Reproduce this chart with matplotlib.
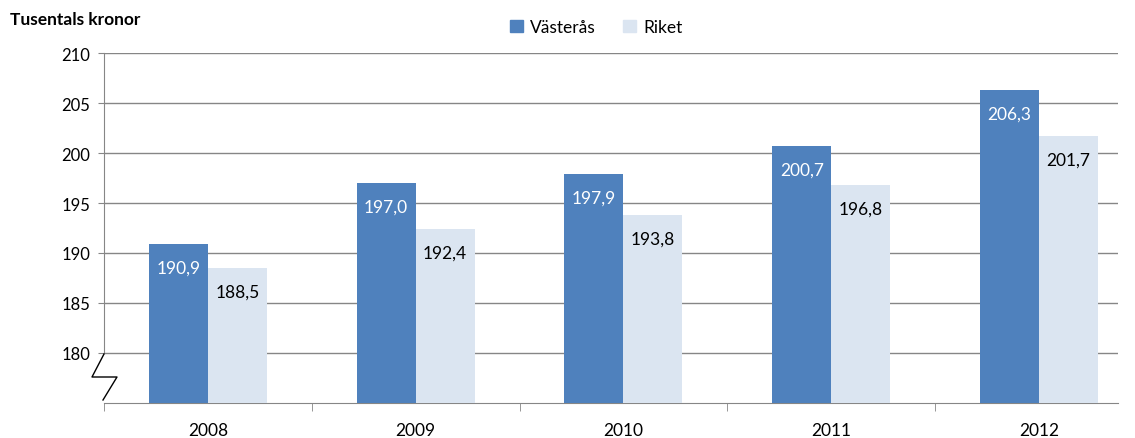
import numpy as np
import matplotlib.pyplot as plt
from matplotlib.patches import Patch
from matplotlib.transforms import blended_transform_factory

plt.rcParams['font.family'] = ['Lato', 'DejaVu Sans']

years = ['2008', '2009', '2010', '2011', '2012']
vasteras = [190.9, 197.0, 197.9, 200.7, 206.3]
riket = [188.5, 192.4, 193.8, 196.8, 201.7]
yticks = [180, 185, 190, 195, 200, 205, 210]

c_vast = '#4F81BD'
c_riket = '#DBE5F1'
grid_c = '#868686'

fig = plt.figure(figsize=(11.35, 4.39), dpi=100)
ax = fig.add_axes([104 / 1135, 1 - 404 / 439, 1014 / 1135, 350 / 439])

x = np.arange(len(years))
w = 0.284
b1 = ax.bar(x - w / 2, vasteras, w, color=c_vast, zorder=3)
b2 = ax.bar(x + w / 2, riket, w, color=c_riket, zorder=3)

ax.set_ylim(175, 210)
# last category is cut off by the plot area, as in the original
ax.set_xlim(-0.5, 4.38)
ax.set_yticks(yticks)
ax.set_yticklabels([str(v) for v in yticks], fontsize=12)
ax.yaxis.grid(True, color=grid_c, linewidth=1, zorder=0)
ax.tick_params(axis='y', length=4, color=grid_c, pad=6)

# category labels centered, ticks at boundaries
ax.set_xticks(x)
ax.set_xticklabels(years, fontsize=12.5)
ax.tick_params(axis='x', length=0, pad=14)
ax.set_xticks(np.arange(len(years)) - 0.5, minor=True)
ax.tick_params(axis='x', which='minor', length=6, color=grid_c)

for s in ['top', 'right']:
    ax.spines[s].set_visible(False)
ax.spines['left'].set_color(grid_c)
ax.spines['bottom'].set_color(grid_c)
ax.spines['left'].set_bounds(180, 210)

# axis break zigzag
tr = blended_transform_factory(fig.transFigure, ax.transData)
zx = np.array([104, 92, 117, 103]) / 1135
zy = [179.9, 177.6, 177.6, 175.3]
ax.plot(zx, zy, color='black', linewidth=1, transform=tr, clip_on=False, zorder=5)

for rect, v in zip(b1, vasteras):
    ax.text(rect.get_x() + rect.get_width() / 2, v - 2.4, f'{v:.1f}'.replace('.', ','),
            ha='center', va='center', color='white', fontsize=12.5, zorder=4)
for rect, v in zip(b2, riket):
    ax.text(rect.get_x() + rect.get_width() / 2, v - 2.4, f'{v:.1f}'.replace('.', ','),
            ha='center', va='center', color='black', fontsize=12.5, zorder=4)

fig.text(10 / 1135, 1 - 20 / 439, 'Tusentals kronor', fontsize=12.5, fontweight='bold',
         ha='left', va='center')

handles = [Patch(color=c_vast, label='Västerås'), Patch(color=c_riket, label='Riket')]
fig.legend(handles=handles, loc='center', bbox_to_anchor=(596 / 1135, 1 - 28 / 439),
           ncol=2, frameon=False, fontsize=12.5, handlelength=0.75, handleheight=0.75,
           handletextpad=0.4, columnspacing=1.6)

fig.savefig('out.png', dpi=100)
